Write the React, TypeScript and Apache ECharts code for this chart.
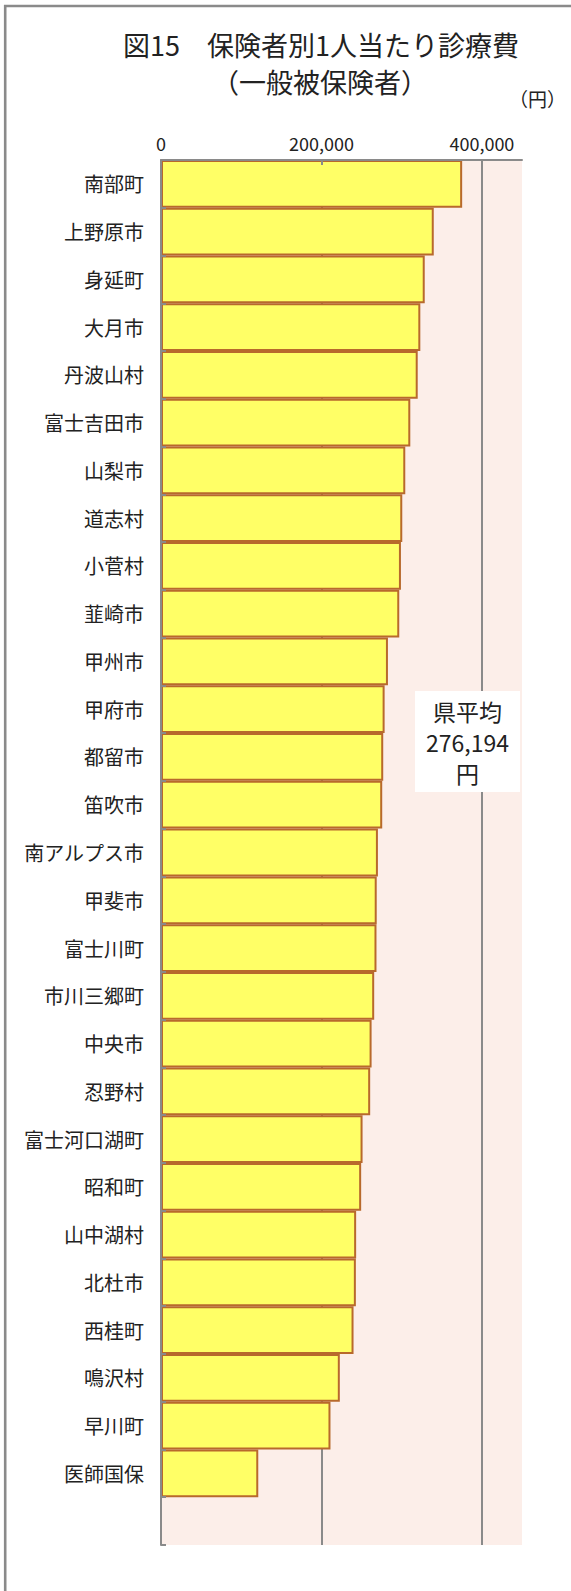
import React, { useEffect, useRef } from "react";
import * as echarts from "echarts";

const categories = [
  "南部町", "上野原市", "身延町", "大月市", "丹波山村", "富士吉田市", "山梨市", "道志村", "小菅村", "韮崎市",
  "甲州市", "甲府市", "都留市", "笛吹市", "南アルプス市", "甲斐市", "富士川町", "市川三郷町", "中央市", "忍野村",
  "富士河口湖町", "昭和町", "山中湖村", "北杜市", "西桂町", "鳴沢村", "早川町", "医師国保", "",
];

const values = [
  375400, 340000, 328750, 323250, 320000, 310750, 304500, 300750, 299100, 297000,
  282900, 278750, 277000, 275750, 270400, 268900, 268600, 265750, 262500, 260750,
  251250, 249500, 243250, 242900, 240000, 222900, 211250, 121250, null,
];

const xTicks = [0, 200000, 400000];

const titleLine1 = "図15　保険者別1人当たり診療費";
const titleLine2 = "（一般被保険者）";
const unitText = "（円）";
const avgLines = ["県平均", "276,194", "円"];

const FONT = '"Noto Sans CJK JP", "Noto Sans", sans-serif';
const TEXT = "#222";
const GRAY = "#8a8a8a";

export default function App() {
  const ref = useRef<HTMLDivElement>(null);
  useEffect(() => {
    document.body.style.margin = "0";
    const chart = echarts.init(ref.current!, null, { renderer: "svg" });
    const fmt = (v: number) => v.toLocaleString("en-US");
    chart.setOption({
      animation: false,
      backgroundColor: "#fff",
      textStyle: { fontFamily: FONT },
      grid: {
        left: 161,
        right: 49,
        top: 160,
        bottom: 46,
        show: true,
        backgroundColor: "#FCEEE9",
        borderWidth: 0,
        containLabel: false,
      },
      xAxis: [
        {
          type: "value",
          position: "top",
          min: 0,
          max: 450000,
          interval: 200000,
          z: 0,
          axisLine: { show: false },
          axisTick: { show: false },
          axisLabel: { show: false },
          splitLine: { show: true, showMinLine: false, showMaxLine: false, lineStyle: { color: GRAY, width: 2 } },
        },
        {
          type: "value",
          position: "top",
          min: 0,
          max: 450000,
          interval: 200000,
          z: 3,
          axisLine: { show: true, lineStyle: { color: GRAY, width: 2 } },
          axisTick: { show: true, inside: true, length: 5, lineStyle: { color: GRAY, width: 2 }, customValues: xTicks },
          axisLabel: {
            show: true,
            margin: 8,
            fontSize: 18,
            color: TEXT,
            fontFamily: FONT,
            customValues: xTicks,
            formatter: (v: number) => fmt(v),
          },
          splitLine: { show: false },
        },
      ],
      yAxis: {
        type: "category",
        inverse: true,
        data: categories,
        z: 3,
        axisLine: { show: true, lineStyle: { color: GRAY, width: 2 } },
        axisTick: { show: true, inside: true, length: 5, lineStyle: { color: GRAY, width: 2 } },
        axisLabel: { margin: 17, fontSize: 20, color: TEXT, fontFamily: FONT },
        splitLine: { show: false },
      },
      series: [
        {
          type: "bar",
          xAxisIndex: 0,
          data: values,
          barCategoryGap: "0%",
          itemStyle: { color: "#FFFF66", borderColor: "#B8692C", borderWidth: 2 },
          z: 2,
        },
      ],
      graphic: [
        {
          type: "rect",
          silent: true,
          shape: { x: 5.2, y: 6, width: 700, height: 1800 },
          style: { fill: "none", stroke: GRAY, lineWidth: 2.6 },
          z: 100,
        },
        {
          type: "text",
          x: 321,
          y: 44.5,
          style: { text: titleLine1, fontSize: 27, lineHeight: 30, fontFamily: FONT, fill: TEXT, align: "center", verticalAlign: "middle" },
        },
        {
          type: "text",
          x: 320,
          y: 81,
          style: { text: titleLine2, fontSize: 27, lineHeight: 30, fontFamily: FONT, fill: TEXT, align: "center", verticalAlign: "middle" },
        },
        {
          type: "text",
          x: 537.5,
          y: 98,
          style: { text: unitText, fontSize: 19, lineHeight: 20, fontFamily: FONT, fill: TEXT, align: "center", verticalAlign: "middle" },
        },
        {
          type: "rect",
          shape: { x: 415, y: 691, width: 105, height: 101 },
          style: { fill: "#fff" },
          z: 50,
        },
        {
          type: "text",
          x: 467.5,
          y: 742,
          z: 51,
          style: {
            text: avgLines.join("\n"),
            fontSize: 23,
            lineHeight: 30.6,
            fontFamily: FONT,
            fill: TEXT,
            align: "center",
            verticalAlign: "middle",
          },
        },
      ],
    });
    return () => chart.dispose();
  }, []);
  return <div ref={ref} style={{ width: 571, height: 1591 }} />;
}
